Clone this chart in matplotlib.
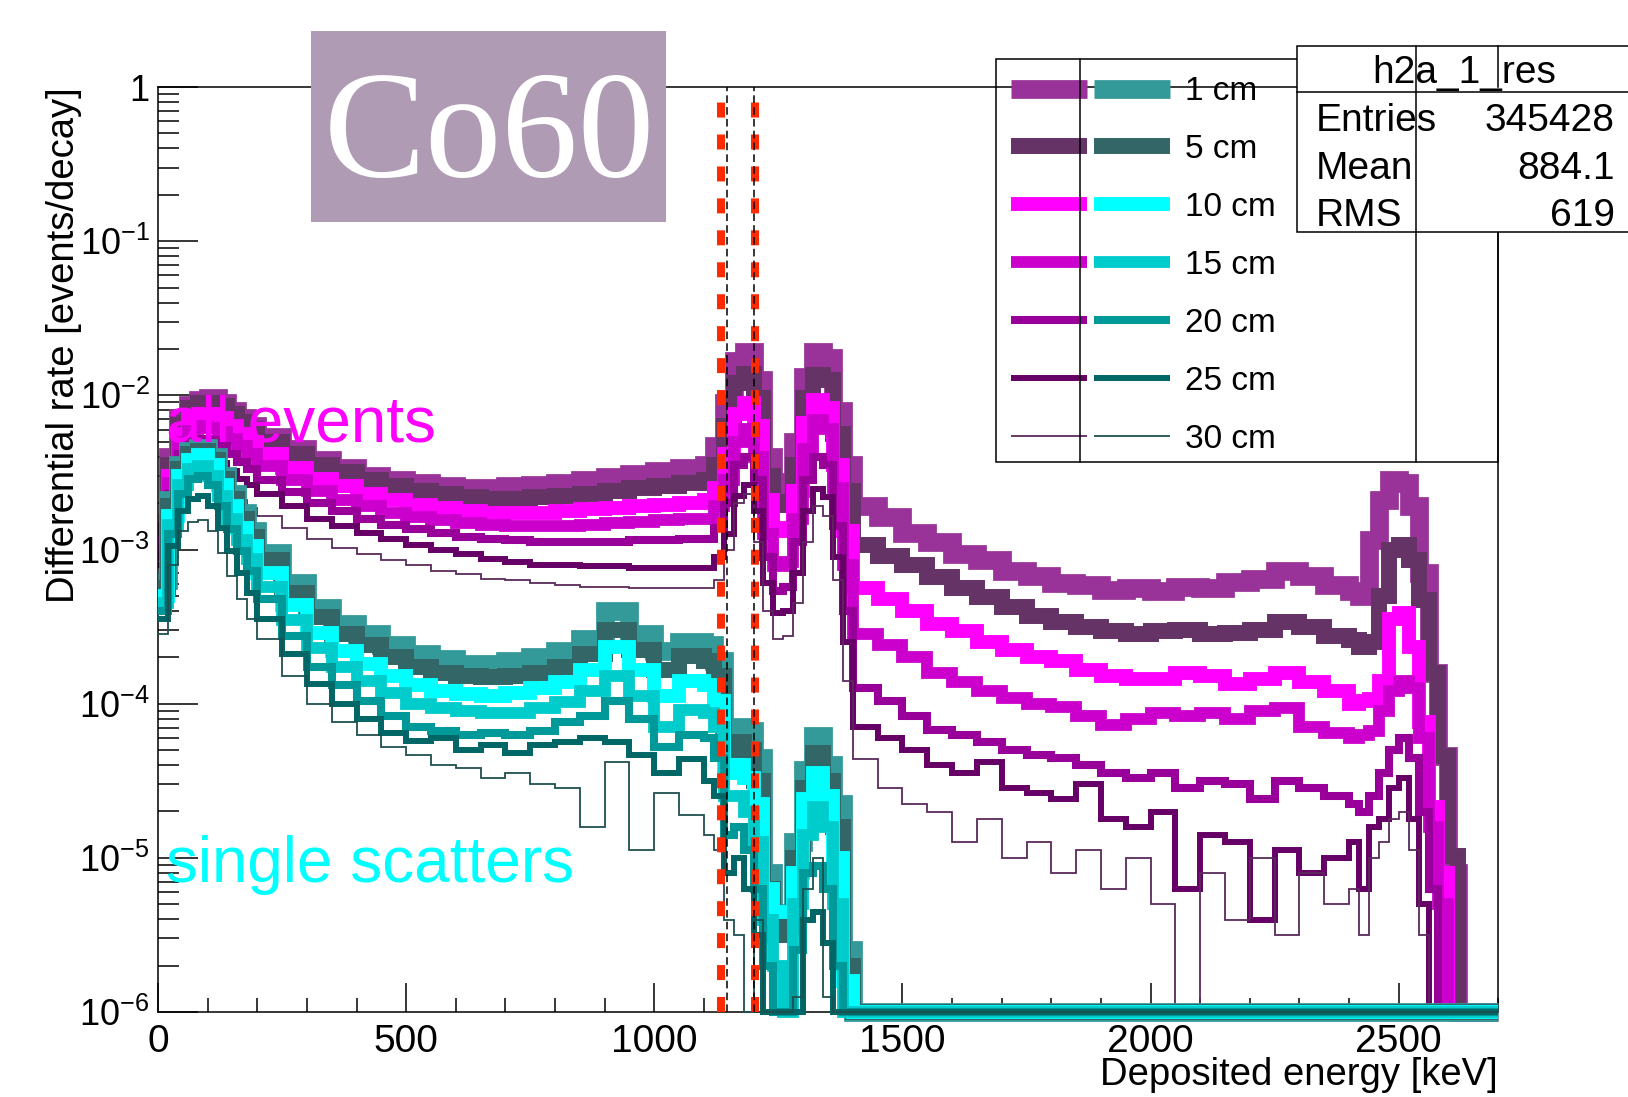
import numpy as np
import matplotlib
matplotlib.use('Agg')
import matplotlib.pyplot as plt
from matplotlib.patches import Rectangle
from matplotlib.lines import Line2D
from matplotlib.ticker import LogLocator, NullFormatter

plt.rcParams['font.family'] = ['Liberation Sans', 'DejaVu Sans']
plt.rcParams['mathtext.fontset'] = 'custom'
plt.rcParams['mathtext.rm'] = 'Liberation Sans'
plt.rcParams['mathtext.it'] = 'Liberation Sans:italic'
plt.rcParams['mathtext.bf'] = 'Liberation Sans:bold'
plt.rcParams['lines.scale_dashes'] = False

# bin edges [keV]: finer binning around the peaks
edges = np.concatenate([np.arange(0, 200, 20), np.arange(200, 1100, 50),
                        np.arange(1100, 1400, 20), np.arange(1400, 2400, 50),
                        np.arange(2400, 2640, 20), [2640, 2700]])

# log10 of the differential rate per bin, -6 = empty bin (drawn on the frame bottom)
# --- all events ---
all_1cm = [-2.83, -2.40, -2.15, -2.06, -2.03, -2.02, -2.05, -2.10, -2.15, -2.20,
           -2.27, -2.35, -2.42, -2.47, -2.52, -2.55, -2.57, -2.59, -2.60, -2.60, -2.59, -2.58, -2.57, -2.55, -2.53, -2.51, -2.49, -2.47,
           -2.45, -2.33, -2.05, -1.78, -1.72, -1.90, -2.40, -2.58, -2.56, -2.30, -1.88, -1.72, -1.76, -2.10, -2.45,
           -2.72, -2.79, -2.89, -2.95, -3.03, -3.07, -3.14, -3.17, -3.22, -3.23, -3.26, -3.25, -3.27, -3.24, -3.25, -3.21, -3.19, -3.14, -3.17, -3.23,
           -3.27, -3.30, -2.94, -2.68, -2.55, -2.57, -2.72, -3.15, -3.80, -4.34, -5.10, -6.0,
           -6.0]
all_5cm = [-2.88, -2.45, -2.18, -2.08, -2.05, -2.05, -2.07, -2.12, -2.17, -2.22,
           -2.30, -2.38, -2.45, -2.50, -2.55, -2.59, -2.62, -2.64, -2.66, -2.67, -2.67, -2.66, -2.65, -2.64, -2.62, -2.60, -2.59, -2.57,
           -2.55, -2.45, -2.20, -1.92, -1.86, -2.02, -2.52, -2.71, -2.69, -2.45, -2.02, -1.87, -1.90, -2.25, -2.62,
           -2.97, -3.04, -3.10, -3.18, -3.25, -3.31, -3.37, -3.43, -3.47, -3.50, -3.53, -3.55, -3.53, -3.52, -3.55, -3.54, -3.52, -3.47, -3.50, -3.56,
           -3.59, -3.63, -3.60, -3.30, -3.00, -2.97, -3.07, -3.33, -3.80, -4.34, -4.99, -6.0,
           -6.0]
all_10cm = [-2.95, -2.52, -2.25, -2.15, -2.12, -2.12, -2.15, -2.20, -2.25, -2.30,
            -2.38, -2.47, -2.54, -2.59, -2.64, -2.68, -2.71, -2.73, -2.75, -2.76, -2.76, -2.76, -2.75, -2.74, -2.73, -2.72, -2.71, -2.70,
            -2.68, -2.60, -2.38, -2.12, -2.05, -2.20, -2.68, -2.88, -2.86, -2.62, -2.18, -2.03, -2.08, -2.45, -2.88,
            -3.25, -3.32, -3.40, -3.48, -3.53, -3.60, -3.65, -3.70, -3.72, -3.78, -3.82, -3.84, -3.84, -3.80, -3.82, -3.87, -3.84, -3.80, -3.86, -3.92,
            -4.00, -3.98, -3.97, -3.85, -3.45, -3.41, -3.63, -4.12, -4.67, -5.10, -6.0, -6.0,
            -6.0]
all_15cm = [-3.00, -2.57, -2.30, -2.22, -2.20, -2.21, -2.24, -2.28, -2.33, -2.38,
            -2.46, -2.55, -2.62, -2.68, -2.72, -2.76, -2.79, -2.81, -2.83, -2.84, -2.85, -2.85, -2.85, -2.84, -2.83, -2.82, -2.81, -2.80,
            -2.80, -2.72, -2.55, -2.30, -2.22, -2.40, -2.90, -3.11, -3.08, -2.80, -2.35, -2.16, -2.22, -2.60, -3.10,
            -3.55, -3.62, -3.70, -3.80, -3.86, -3.92, -3.96, -4.00, -4.02, -4.08, -4.14, -4.10, -4.06, -4.08, -4.06, -4.10, -4.05, -4.03, -4.15, -4.19,
            -4.22, -4.20, -4.18, -4.05, -3.92, -3.85, -3.90, -4.22, -4.80, -5.30, -6.0, -6.0,
            -6.0]
all_20cm = [-3.05, -2.64, -2.38, -2.30, -2.28, -2.29, -2.33, -2.38, -2.43, -2.48,
            -2.55, -2.63, -2.70, -2.75, -2.80, -2.84, -2.87, -2.89, -2.92, -2.93, -2.94, -2.95, -2.95, -2.95, -2.95, -2.94, -2.94, -2.93,
            -2.93, -2.86, -2.70, -2.45, -2.40, -2.55, -3.05, -3.27, -3.24, -2.95, -2.55, -2.40, -2.45, -2.85, -3.40,
            -3.90, -3.98, -4.08, -4.17, -4.20, -4.25, -4.30, -4.33, -4.35, -4.40, -4.45, -4.48, -4.45, -4.55, -4.50, -4.52, -4.62, -4.50, -4.55, -4.60,
            -4.65, -4.70, -4.60, -4.45, -4.30, -4.22, -4.35, -4.70, -5.20, -6.0, -6.0, -6.0,
            -6.0]
all_25cm = [-3.10, -2.72, -2.47, -2.40, -2.38, -2.40, -2.44, -2.49, -2.54, -2.58,
            -2.64, -2.72, -2.80, -2.85, -2.89, -2.93, -2.97, -3.00, -3.03, -3.06, -3.08, -3.10, -3.10, -3.11, -3.11, -3.12, -3.12, -3.12,
            -3.12, -3.05, -2.90, -2.65, -2.58, -2.75, -3.22, -3.41, -3.40, -3.15, -2.75, -2.61, -2.66, -3.05, -3.60,
            -4.15, -4.22, -4.30, -4.40, -4.45, -4.38, -4.55, -4.58, -4.62, -4.52, -4.75, -4.80, -4.70, -5.20, -4.85, -4.90, -5.40, -4.95, -5.10, -5.00,
            -4.90, -5.20, -4.80, -4.75, -4.55, -4.48, -4.75, -5.30, -6.0, -6.0, -6.0, -6.0,
            -6.0]
all_30cm = [-3.20, -2.85, -2.60, -2.52, -2.50, -2.52, -2.56, -2.62, -2.68, -2.73,
            -2.78, -2.86, -2.93, -2.99, -3.03, -3.07, -3.10, -3.14, -3.16, -3.19, -3.20, -3.22, -3.23, -3.24, -3.24, -3.25, -3.25, -3.25,
            -3.25, -3.20, -3.00, -2.70, -2.64, -2.95, -3.40, -3.58, -3.56, -3.35, -2.95, -2.72, -2.78, -3.20, -3.85,
            -4.36, -4.55, -4.65, -4.70, -4.90, -4.75, -5.00, -4.90, -5.10, -4.95, -5.20, -5.00, -5.30, -6.0, -5.10, -5.40, -5.00, -5.50, -5.10, -5.30,
            -5.20, -5.50, -5.00, -4.90, -4.75, -4.70, -4.95, -5.50, -6.0, -6.0, -6.0, -6.0,
            -6.0]

# --- single scatters ---
ss_1cm = [-3.20, -2.68, -2.45, -2.36, -2.34, -2.40, -2.52, -2.64, -2.76, -2.88,
          -3.02, -3.22, -3.38, -3.48, -3.55, -3.62, -3.68, -3.71, -3.74, -3.74, -3.72, -3.70, -3.66, -3.58, -3.40, -3.55, -3.66, -3.60,
          -3.62, -3.72, -4.18, -4.15, -4.18, -4.35, -5.10, -5.36, -5.36, -4.90, -4.43, -4.21, -4.40, -4.65, -5.60,
          -6.0, -6.0, -6.0, -6.0, -6.0, -6.0, -6.0, -6.0, -6.0, -6.0, -6.0, -6.0, -6.0, -6.0, -6.0, -6.0, -6.0, -6.0, -6.0, -6.0,
          -6.0, -6.0, -6.0, -6.0, -6.0, -6.0, -6.0, -6.0, -6.0, -6.0, -6.0, -6.0,
          -6.0]
ss_5cm = [-3.25, -2.72, -2.48, -2.38, -2.36, -2.42, -2.54, -2.67, -2.80, -2.92,
          -3.07, -3.28, -3.44, -3.55, -3.62, -3.70, -3.76, -3.80, -3.82, -3.83, -3.82, -3.80, -3.76, -3.68, -3.52, -3.65, -3.78, -3.69,
          -3.72, -3.82, -4.30, -4.25, -4.30, -4.50, -5.20, -5.50, -5.45, -5.00, -4.55, -4.32, -4.50, -4.80, -5.70,
          -6.0, -6.0, -6.0, -6.0, -6.0, -6.0, -6.0, -6.0, -6.0, -6.0, -6.0, -6.0, -6.0, -6.0, -6.0, -6.0, -6.0, -6.0, -6.0, -6.0,
          -6.0, -6.0, -6.0, -6.0, -6.0, -6.0, -6.0, -6.0, -6.0, -6.0, -6.0, -6.0,
          -6.0]
ss_10cm = [-3.30, -2.78, -2.52, -2.42, -2.39, -2.45, -2.58, -2.72, -2.86, -2.98,
           -3.15, -3.36, -3.54, -3.66, -3.74, -3.82, -3.88, -3.92, -3.94, -3.95, -3.93, -3.90, -3.86, -3.78, -3.63, -3.78, -3.95, -3.85,
           -3.88, -3.98, -4.45, -4.40, -4.48, -4.65, -5.20, -5.35, -5.35, -5.10, -4.62, -4.45, -4.60, -5.00, -5.80,
           -6.0, -6.0, -6.0, -6.0, -6.0, -6.0, -6.0, -6.0, -6.0, -6.0, -6.0, -6.0, -6.0, -6.0, -6.0, -6.0, -6.0, -6.0, -6.0, -6.0,
           -6.0, -6.0, -6.0, -6.0, -6.0, -6.0, -6.0, -6.0, -6.0, -6.0, -6.0, -6.0,
           -6.0]
ss_15cm = [-3.35, -2.84, -2.58, -2.48, -2.46, -2.52, -2.65, -2.80, -2.94, -3.06,
           -3.24, -3.46, -3.64, -3.76, -3.85, -3.93, -4.00, -4.03, -4.05, -4.06, -4.06, -4.03, -3.99, -3.92, -3.82, -3.95, -4.15, -4.04,
           -4.06, -4.15, -4.60, -4.60, -4.70, -4.90, -5.40, -5.70, -6.0, -5.30, -4.85, -4.67, -4.80, -5.30, -6.0,
           -6.0, -6.0, -6.0, -6.0, -6.0, -6.0, -6.0, -6.0, -6.0, -6.0, -6.0, -6.0, -6.0, -6.0, -6.0, -6.0, -6.0, -6.0, -6.0, -6.0,
           -6.0, -6.0, -6.0, -6.0, -6.0, -6.0, -6.0, -6.0, -6.0, -6.0, -6.0, -6.0,
           -6.0]
ss_20cm = [-3.40, -2.90, -2.64, -2.54, -2.52, -2.58, -2.72, -2.87, -3.01, -3.14,
           -3.32, -3.56, -3.76, -3.88, -3.98, -4.08, -4.15, -4.18, -4.20, -4.19, -4.20, -4.18, -4.12, -4.08, -3.98, -4.10, -4.28, -4.20,
           -4.22, -4.35, -4.85, -4.80, -4.95, -5.20, -5.70, -6.0, -6.0, -5.60, -5.10, -5.05, -5.20, -5.70, -6.0,
           -6.0, -6.0, -6.0, -6.0, -6.0, -6.0, -6.0, -6.0, -6.0, -6.0, -6.0, -6.0, -6.0, -6.0, -6.0, -6.0, -6.0, -6.0, -6.0, -6.0,
           -6.0, -6.0, -6.0, -6.0, -6.0, -6.0, -6.0, -6.0, -6.0, -6.0, -6.0, -6.0,
           -6.0]
ss_25cm = [-3.45, -2.98, -2.75, -2.67, -2.65, -2.72, -2.86, -3.01, -3.15, -3.28,
           -3.45, -3.68, -3.87, -4.00, -4.10, -4.19, -4.24, -4.22, -4.30, -4.27, -4.32, -4.27, -4.25, -4.22, -4.25, -4.33, -4.45, -4.36,
           -4.50, -4.60, -5.10, -5.00, -5.20, -5.50, -6.0, -6.0, -6.0, -6.0, -5.40, -5.35, -5.55, -6.0, -6.0,
           -6.0, -6.0, -6.0, -6.0, -6.0, -6.0, -6.0, -6.0, -6.0, -6.0, -6.0, -6.0, -6.0, -6.0, -6.0, -6.0, -6.0, -6.0, -6.0, -6.0,
           -6.0, -6.0, -6.0, -6.0, -6.0, -6.0, -6.0, -6.0, -6.0, -6.0, -6.0, -6.0,
           -6.0]
ss_30cm = [-3.55, -3.10, -2.88, -2.82, -2.81, -2.88, -3.02, -3.17, -3.32, -3.45,
           -3.58, -3.82, -4.00, -4.12, -4.20, -4.28, -4.33, -4.40, -4.42, -4.48, -4.45, -4.52, -4.55, -4.80, -4.38, -4.95, -4.58, -4.72,
           -4.85, -4.95, -5.40, -5.50, -6.0, -5.40, -6.0, -6.0, -6.0, -5.90, -5.20, -5.00, -5.90, -6.0, -6.0,
           -6.0, -6.0, -6.0, -6.0, -6.0, -6.0, -6.0, -6.0, -6.0, -6.0, -6.0, -6.0, -6.0, -6.0, -6.0, -6.0, -6.0, -6.0, -6.0, -6.0,
           -6.0, -6.0, -6.0, -6.0, -6.0, -6.0, -6.0, -6.0, -6.0, -6.0, -6.0, -6.0,
           -6.0]

distances = ['1 cm', '5 cm', '10 cm', '15 cm', '20 cm', '25 cm', '30 cm']
all_events = [all_1cm, all_5cm, all_10cm, all_15cm, all_20cm, all_25cm, all_30cm]
single_scatters = [ss_1cm, ss_5cm, ss_10cm, ss_15cm, ss_20cm, ss_25cm, ss_30cm]

# stats box of the last drawn histogram
stats_name = 'h2a_1_res'
stats_rows = [('Entries', '345428'), ('Mean', '884.1'), ('RMS', '619')]

# selection window [keV]
window_red = [1135, 1203]
window_black = [1147, 1201]

all_colors = ['#993399', '#663366', '#ff00ff', '#cc00cc', '#990099', '#660066', '#5a2a5a']
ss_colors = ['#339999', '#336666', '#00ffff', '#00cccc', '#009999', '#006666', '#1f4f4f']
widths = [13.5, 11.5, 10, 8.5, 5.8, 4.3, 1.3]

W, H = 1628, 1097
fig = plt.figure(figsize=(W / 100, H / 100), dpi=100)
ax = fig.add_axes([158 / W, 85 / H, 1340 / W, 925 / H])

for vals, c, w in zip(all_events, all_colors, widths):
    assert len(vals) == len(edges) - 1
    ax.stairs(10 ** np.array(vals), edges, baseline=None, color=c, lw=w,
              joinstyle='miter', capstyle='butt', clip_on=False, zorder=2)
for vals, c, w in zip(single_scatters, ss_colors, widths):
    assert len(vals) == len(edges) - 1
    ax.stairs(10 ** np.array(vals), edges, baseline=None, color=c, lw=w,
              joinstyle='miter', capstyle='butt', clip_on=False, zorder=3)

for xv in window_red:
    ax.axvline(xv, color='#ff2a00', lw=5.8, dashes=(10.8, 12.2), zorder=6)
for xv in window_black:
    ax.axvline(xv, color='black', lw=1.1, dashes=(5.5, 3.0), zorder=7)

ax.set_yscale('log')
ax.set_xlim(0, 2700)
ax.set_ylim(1e-6, 1)

ax.set_xticks([0, 500, 1000, 1500, 2000, 2500])
ax.set_xticklabels(['0', '500', '1000', '1500', '2000', '2500'])
ax.set_xticks(np.arange(0, 2701, 100), minor=True)
ax.set_yticks([1e-6, 1e-5, 1e-4, 1e-3, 1e-2, 1e-1, 1])
ax.set_yticklabels([r'$10^{-6}$', r'$10^{-5}$', r'$10^{-4}$', r'$10^{-3}$',
                    r'$10^{-2}$', r'$10^{-1}$', '1'])
ax.yaxis.set_minor_locator(LogLocator(base=10, subs=np.arange(2, 10), numticks=20))
ax.yaxis.set_minor_formatter(NullFormatter())

ax.tick_params(axis='both', which='both', direction='in', top=False, right=False,
               width=1.1)
ax.tick_params(axis='x', which='major', length=21, pad=9, labelsize=28)
ax.tick_params(axis='x', which='minor', length=10)
ax.tick_params(axis='y', which='major', length=29, pad=6, labelsize=26)
ax.tick_params(axis='y', which='minor', length=15)
for sp in ax.spines.values():
    sp.set_linewidth(1.1)

# overlay in pixel coordinates for the ROOT-style boxes and labels
ov = fig.add_axes([0, 0, 1, 1], zorder=10)
ov.set_xlim(0, W)
ov.set_ylim(H, 0)
ov.axis('off')

ov.text(166, 441, 'all events', color='#ff00ff', fontsize=46, ha='left', va='baseline')
ov.text(166, 882, 'single scatters', color='#00ffff', fontsize=46, ha='left', va='baseline')

ov.text(64, 87, 'Differential rate [events/decay]', rotation=90, fontsize=27.5,
        ha='center', va='top')
ov.text(1498, 1075, 'Deposited energy [keV]', fontsize=27.5, ha='right', va='center')

# Co60 label
ov.add_patch(Rectangle((311, 31), 355, 191, fc='#b09bb5', ec='none'))
ov.text(489, 177, 'Co60', color='white', fontsize=110, family='Liberation Serif',
        ha='center', va='baseline')

# legend
ov.add_patch(Rectangle((996, 59), 502, 403, fill=False, ec='black', lw=1.1))
rows_y = [89, 146, 204, 262, 320, 378, 436]
for y, lab, ca, cs, w in zip(rows_y, distances, all_colors, ss_colors, widths):
    ov.add_line(Line2D([1011, 1087], [y, y], color=ca, lw=w, solid_capstyle='butt'))
    ov.add_line(Line2D([1094, 1170], [y, y], color=cs, lw=w, solid_capstyle='butt'))
    ov.text(1185, y + 3, lab, fontsize=24, ha='left', va='center')

# stats box
ov.add_patch(Rectangle((1297, 46), 400, 186, fc='white', ec='black', lw=1.1))
ov.add_line(Line2D([1297, W], [92, 92], color='black', lw=1.1))
ov.text(1464, 73, stats_name, fontsize=28, ha='center', va='center')
for y, (k, v) in zip([121, 169, 216], stats_rows):
    ov.text(1316, y, k, fontsize=28, ha='left', va='center')
    ov.text(1615, y, v, fontsize=28, ha='right', va='center')

# pad borders crossing the boxes
ov.add_line(Line2D([1080, 1080], [59, 462], color='black', lw=1.1))
ov.add_line(Line2D([1416, 1416], [46, 462], color='black', lw=1.1))
ov.add_line(Line2D([1498, 1498], [46, 87], color='black', lw=1.1))

fig.savefig('out.png', dpi=100)
